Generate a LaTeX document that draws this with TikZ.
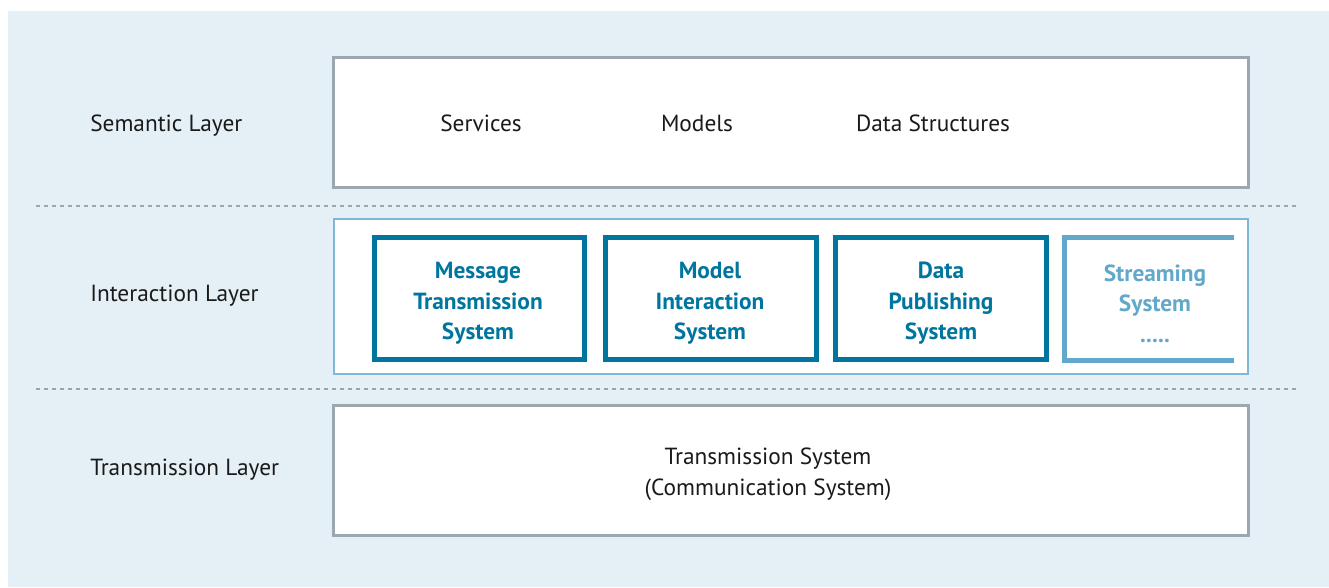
\documentclass[tikz,border=0pt]{standalone}
\usepackage{fontspec}
\setmainfont{PT Sans}
\definecolor{bgblue}{HTML}{E4EFF6}
\definecolor{boxgray}{HTML}{9BA8B0}
\definecolor{dashgray}{HTML}{9BA4AA}
\definecolor{teal}{HTML}{00769F}
\definecolor{lightteal}{HTML}{62A8CA}
\definecolor{outerblue}{HTML}{7FB8D6}
\definecolor{txt}{HTML}{1A1A1A}
\tikzset{
  px/.style={x=0.75pt,y=-0.75pt},
  graybox/.style={draw=boxgray,line width=2.25pt,fill=white,inner sep=0pt,outer sep=0pt},
  outerbox/.style={draw=outerblue,line width=1.5pt,fill=white,inner sep=0pt,outer sep=0pt},
  tealbox/.style={draw=teal,line width=3.75pt,inner sep=0pt,outer sep=0pt},
  sepline/.style={draw=dashgray,line width=1.5pt,dash pattern=on 3pt off 3pt},
  layerlabel/.style={anchor=base west,inner sep=0pt,text=txt,font=\fontsize{17.5}{21}\selectfont},
  plain/.style={anchor=base,inner sep=0pt,text=txt,font=\fontsize{17.5}{21}\selectfont},
  plain2/.style={inner sep=0pt,text=txt,align=center,font=\fontsize{17.5}{23.25}\selectfont},
  boldtext/.style={inner sep=0pt,text=teal,align=center,font=\fontsize{17.5}{22.9}\selectfont\bfseries},
  lightbold/.style={inner sep=0pt,text=lightteal,align=center,font=\fontsize{17.5}{22.9}\selectfont\bfseries},
}
\begin{document}
\begin{tikzpicture}[px]
\useasboundingbox (0,0) rectangle (1329,587);
\fill[bgblue] (8,11) rectangle (1329,587);
% layer boxes
\node[graybox,minimum width=915*0.75pt,minimum height=130*0.75pt] (sem) at (791,122.5) {};
\node[outerbox,minimum width=914*0.75pt,minimum height=155*0.75pt] (inter) at (791,296.5) {};
\node[graybox,minimum width=915*0.75pt,minimum height=130*0.75pt] (trans) at (791,470.5) {};
% separators
\coordinate (d1a) at (36,206);
\coordinate (d1b) at (1299,206);
\coordinate (d2a) at (36,389);
\coordinate (d2b) at (1299,389);
\draw[sepline] (d1a) -- (d1b);
\draw[sepline] (d2a) -- (d2b);
% layer labels
\node[layerlabel] (lsem) at (90,131) {Semantic Layer};
\node[layerlabel] (lint) at (90,301) {Interaction Layer};
\node[layerlabel] (ltra) at (90,475) {Transmission Layer};
% semantic contents
\node[plain] (svc) at (481,131) {Services};
\node[plain] (mdl) at (697,131) {Models};
\node[plain] (dst) at (933,131) {Data Structures};
% interaction boxes
\node[tealbox,minimum width=210*0.75pt,minimum height=122*0.75pt] (msg) at (479.5,298.5) {};
\node[tealbox,minimum width=211*0.75pt,minimum height=122*0.75pt] (mis) at (711,298.5) {};
\node[tealbox,minimum width=211*0.75pt,minimum height=122*0.75pt] (dps) at (941,298.5) {};
\coordinate (s1) at (1234,237.5);
\coordinate (s2) at (1064.5,237.5);
\coordinate (s3) at (1064.5,360.5);
\coordinate (s4) at (1234,360.5);
\draw[draw=lightteal,line width=3.75pt] (s1) -- (s2) -- (s3) -- (s4);
\node[boldtext] (tmsg) at (478,303.5) {Message\\Transmission\\System};
\node[boldtext] (tmis) at (710,303.5) {Model\\Interaction\\System};
\node[boldtext] (tdps) at (941,303.5) {Data\\Publishing\\System};
\node[lightbold] (tstr) at (1155,303.5) {Streaming\\System\\.....};
% transmission contents
\node[plain2] (tsys) at (768,474.5) {Transmission System\\(Communication System)};
\end{tikzpicture}
\end{document}
